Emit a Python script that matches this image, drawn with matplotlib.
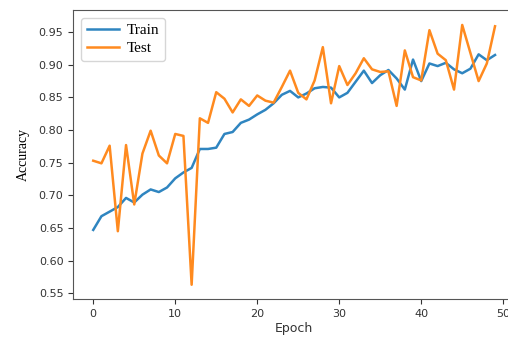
import matplotlib
matplotlib.use('Agg')
import matplotlib.pyplot as plt

# values
epochs = list(range(50))
train_acc = [0.647, 0.668, 0.675, 0.682, 0.696, 0.689, 0.701, 0.709, 0.705, 0.712,
             0.726, 0.735, 0.742, 0.771, 0.771, 0.773, 0.794, 0.797, 0.811, 0.816,
             0.824, 0.831, 0.841, 0.854, 0.860, 0.850, 0.856, 0.864, 0.866, 0.865,
             0.850, 0.857, 0.874, 0.891, 0.872, 0.884, 0.892, 0.879, 0.862, 0.908,
             0.875, 0.902, 0.898, 0.903, 0.893, 0.887, 0.894, 0.916, 0.907, 0.915]
test_acc = [0.753, 0.749, 0.776, 0.645, 0.777, 0.686, 0.764, 0.799, 0.761, 0.749,
            0.794, 0.791, 0.563, 0.818, 0.811, 0.858, 0.848, 0.827, 0.847, 0.837,
            0.853, 0.845, 0.842, 0.866, 0.891, 0.857, 0.847, 0.876, 0.927, 0.841,
            0.898, 0.869, 0.887, 0.910, 0.893, 0.889, 0.890, 0.837, 0.922, 0.881,
            0.876, 0.953, 0.917, 0.907, 0.862, 0.961, 0.918, 0.875, 0.902, 0.959]
series_labels = ['Train', 'Test']

fig = plt.figure(figsize=(5.08, 3.43), dpi=100)
# the reference is cropped: right spine sits just outside the image
ax = fig.add_axes([0.144, 0.128, 0.870, 0.843])

ax.plot(epochs, train_acc, color='#2f85c0', linewidth=1.8, label=series_labels[0])
ax.plot(epochs, test_acc, color='#ff8a1f', linewidth=1.8, label=series_labels[1])

ax.set_xlim(-2.45, 51.45)
ax.set_ylim(0.541, 0.984)
ax.set_xticks([0, 10, 20, 30, 40, 50])
ax.set_yticks([0.55, 0.60, 0.65, 0.70, 0.75, 0.80, 0.85, 0.90, 0.95])
ax.tick_params(labelsize=8, colors='#333333', length=3.5)

ax.set_xlabel('Epoch', fontsize=9, color='#333333', labelpad=2)
ax.set_ylabel('Accuracy', fontsize=10, family='Liberation Serif', labelpad=6)

for s in ax.spines.values():
    s.set_color('#555555')

ax.legend(loc='upper left', prop={'family': 'Liberation Serif', 'size': 11},
          handlelength=2.1, handletextpad=0.5, labelspacing=0.25,
          borderpad=0.4, borderaxespad=0.5)

plt.savefig('out.png', dpi=100, facecolor='white')
plt.close()
